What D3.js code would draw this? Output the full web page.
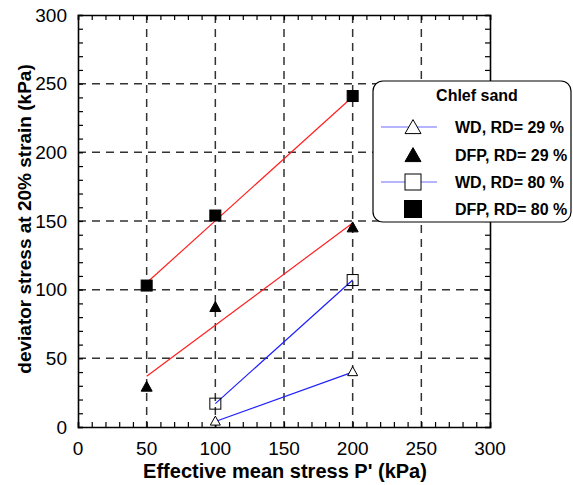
<!DOCTYPE html>
<html><head><meta charset="utf-8">
<script src="https://cdn.jsdelivr.net/npm/d3@7"></script>
<style>body{margin:0;background:#fff}svg{font-family:"Liberation Sans",Arial,sans-serif}</style>
</head><body><svg id="c" width="573" height="485"></svg>
<script>
const xTicks = [0, 50, 100, 150, 200, 250, 300];
const yTicks = [0, 50, 100, 150, 200, 250, 300];
const wd29 = [[100, 4], [200, 40]];
const dfp29 = [[50, 29], [100, 87], [200, 145]];
const dfp29Fit = [[50, 37], [200, 148.5]];
const wd80 = [[100, 17], [200, 107]];
const dfp80 = [[50, 103], [100, 154], [200, 241]];
const dfp80Fit = [[50, 105], [200, 240.5]];
const legendLabels = ["WD, RD= 29 %", "DFP, RD= 29 %", "WD, RD= 80 %", "DFP, RD= 80 %"];

const svg = d3.select("#c");
const L = 78, R = 490, T = 15, B = 427;
const x = d3.scaleLinear().domain([0, 300]).range([L, R]);
const y = d3.scaleLinear().domain([0, 300]).range([B, T]);

// grid
const g = svg.append("g");
g.selectAll(".gx").data(xTicks.slice(1, -1)).join("line")
  .attr("x1", d => x(d)).attr("x2", d => x(d)).attr("y1", T).attr("y2", B)
  .attr("stroke", "#333").attr("stroke-width", 1.5).attr("stroke-dasharray", "8,6");
g.selectAll(".gy").data(yTicks.slice(1, -1)).join("line")
  .attr("y1", d => y(d)).attr("y2", d => y(d)).attr("x1", L).attr("x2", R)
  .attr("stroke", "#333").attr("stroke-width", 1.5).attr("stroke-dasharray", "8,6");

// axes
const minor = d3.range(0, 301, 10);
const axB = svg.append("g").attr("transform", `translate(0,${B})`)
  .call(d3.axisBottom(x).tickValues(minor).tickSize(-5).tickFormat(""));
const axT = svg.append("g").attr("transform", `translate(0,${T})`)
  .call(d3.axisTop(x).tickValues(minor).tickSize(-5).tickFormat(""));
const axL = svg.append("g").attr("transform", `translate(${L},0)`)
  .call(d3.axisLeft(y).tickValues(minor).tickSize(-5).tickFormat(""));
const axR = svg.append("g").attr("transform", `translate(${R},0)`)
  .call(d3.axisRight(y).tickValues(minor).tickSize(-5).tickFormat(""));
[axB, axT, axL, axR].forEach(a => {
  a.select(".domain").attr("stroke", "#000").attr("stroke-width", 1.6);
  a.selectAll(".tick line").attr("stroke", "#000").attr("stroke-width", 1.2);
});

// tick labels
svg.append("g").selectAll("text").data(xTicks).join("text")
  .attr("x", d => x(d)).attr("y", B + 28).attr("text-anchor", "middle")
  .attr("font-size", 19).text(d => d);
svg.append("g").selectAll("text").data(yTicks).join("text")
  .attr("x", L - 11).attr("y", d => y(d) + 6.5).attr("text-anchor", "end")
  .attr("font-size", 19).text(d => d);

// titles
svg.append("text").attr("x", 285).attr("y", 478).attr("text-anchor", "middle")
  .attr("font-size", 20).attr("font-weight", "bold").text("Effective mean stress P' (kPa)");
svg.append("text").attr("transform", `translate(31,${219}) rotate(-90)`)
  .attr("text-anchor", "middle").attr("font-size", 19).attr("font-weight", "bold")
  .text("deviator stress at 20% strain (kPa)");

// lines
const line = d3.line().x(d => x(d[0])).y(d => y(d[1]));
svg.append("path").datum(dfp80Fit).attr("d", line).attr("fill", "none").attr("stroke", "#ff2020").attr("stroke-width", 1.2);
svg.append("path").datum(dfp29Fit).attr("d", line).attr("fill", "none").attr("stroke", "#ff2020").attr("stroke-width", 1.2);
svg.append("path").datum(wd80).attr("d", line).attr("fill", "none").attr("stroke", "#2020ff").attr("stroke-width", 1.2);
svg.append("path").datum(wd29).attr("d", line).attr("fill", "none").attr("stroke", "#2020ff").attr("stroke-width", 1.2);

// markers
const triPath = (w, h) => `M0,${-h * 0.6}L${w / 2},${h * 0.4}L${-w / 2},${h * 0.4}Z`;
function drawTri(data, filled, w, h) {
  svg.append("g").selectAll("path").data(data).join("path")
    .attr("transform", d => `translate(${x(d[0])},${y(d[1])})`)
    .attr("d", triPath(w, h)).attr("fill", filled ? "#000" : "#fff")
    .attr("stroke", "#000").attr("stroke-width", 1);
}
function drawSq(data, filled, s) {
  svg.append("g").selectAll("rect").data(data).join("rect")
    .attr("x", d => x(d[0]) - s / 2).attr("y", d => y(d[1]) - s / 2)
    .attr("width", s).attr("height", s).attr("fill", filled ? "#000" : "none")
    .attr("stroke", "#000").attr("stroke-width", 1);
}
drawTri(wd29, false, 10, 9);
drawTri(dfp29, true, 11, 10);
drawSq(wd80, false, 11);
drawSq(dfp80, true, 11);

// legend
const lg = svg.append("g");
lg.append("rect").attr("x", 373).attr("y", 81).attr("width", 198).attr("height", 141)
  .attr("rx", 10).attr("fill", "#fff").attr("stroke", "#000").attr("stroke-width", 1.2);
lg.append("text").attr("x", 477).attr("y", 101).attr("text-anchor", "middle")
  .attr("font-size", 16).attr("font-weight", "bold").text("Chlef sand");
const rowsY = [127, 155, 182, 209];
const mx = 413;
legendLabels.forEach((t, i) => {
  const yy = rowsY[i];
  if (i === 0 || i === 2) {
    lg.append("line").attr("x1", 381).attr("x2", 437).attr("y1", yy).attr("y2", yy)
      .attr("stroke", "#6a6aff").attr("stroke-width", 1.2);
  }
  if (i < 2) {
    lg.append("path").attr("transform", `translate(${mx},${yy + 1})`).attr("d", triPath(16, 14))
      .attr("fill", i === 1 ? "#000" : "#fff").attr("stroke", "#000").attr("stroke-width", 1);
  } else {
    const s = i === 3 ? 17 : 16;
    lg.append("rect").attr("x", mx - s / 2).attr("y", yy - s / 2).attr("width", s).attr("height", s)
      .attr("fill", i === 3 ? "#000" : "#fff").attr("stroke", "#000").attr("stroke-width", 1);
  }
  lg.append("text").attr("x", 455).attr("y", yy + 6).attr("font-size", 16)
    .attr("font-weight", "bold").text(t);
});
</script></body></html>
